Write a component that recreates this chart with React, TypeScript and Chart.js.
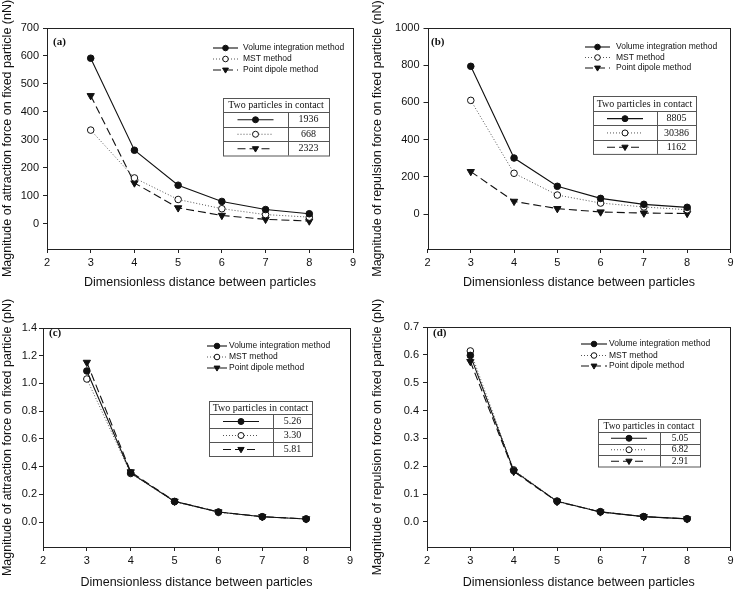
import React, { useEffect, useRef } from 'react';
import { Chart, registerables } from 'chart.js';

Chart.register(...registerables);

// ---------- DATA ----------
const distances = [3, 4, 5, 6, 7, 8];
const xTicks = [2, 3, 4, 5, 6, 7, 8, 9];
const seriesNames = ['Volume integration method', 'MST method', 'Point dipole method'];
const xTitle = 'Dimensionless distance between particles';
const tableHeader = 'Two particles in contact';

// (a) attraction, nN
const aVolume = [592, 263, 138, 80, 51, 36];
const aMST = [335, 164, 87, 54, 33, 24];
const aDipole = [458, 146, 57, 30, 16, 10];
const aTicks = [0, 100, 200, 300, 400, 500, 600, 700];
const aContact = ['1936', '668', '2323'];

// (b) repulsion, nN
const bVolume = [794, 301, 149, 84, 52, 36];
const bMST = [611, 219, 102, 59, 38, 23];
const bDipole = [228, 68, 29, 11, 5, 3];
const bTicks = [0, 200, 400, 600, 800, 1000];
const bContact = ['8805', '30386', '1162'];

// (c) attraction, pN
const cVolume = [1.09, 0.355, 0.149, 0.072, 0.038, 0.022];
const cMST = [1.032, 0.35, 0.147, 0.071, 0.038, 0.022];
const cDipole = [1.152, 0.362, 0.15, 0.073, 0.039, 0.023];
const cTicks = [0, 0.2, 0.4, 0.6, 0.8, 1.0, 1.2, 1.4];
const cContact = ['5.26', '3.30', '5.81'];

// (d) repulsion, pN
const dVolume = [0.598, 0.184, 0.074, 0.036, 0.019, 0.011];
const dMST = [0.614, 0.187, 0.075, 0.037, 0.019, 0.011];
const dDipole = [0.576, 0.181, 0.073, 0.036, 0.019, 0.011];
const dTicks = [0, 0.1, 0.2, 0.3, 0.4, 0.5, 0.6, 0.7];
const dContact = ['5.05', '6.82', '2.91'];

// ---------- LAYOUT ----------
const W = 737;
const H = 589;
const SANS = '"Liberation Sans", Arial, sans-serif';
const SERIF = '"Liberation Serif", "Times New Roman", serif';

type Panel = {
  label: string;
  padLeft: number;
  area: { left: number; top: number; right: number; bottom: number };
  xScaleBottom: number;
  xTitlePad: number;
  yMin: number;
  yMax: number;
  yTicks: number[];
  decimals: number;
  tickPad: number;
  yTitle: string;
  volume: number[];
  mst: number[];
  dipole: number[];
  contact: string[];
  legend: { x1: number; x2: number; tx: number; ys: number[] };
  table: { x: number; y: number; w: number; header: number; row: number; col: number; font: number };
  labelPos: { x: number; y: number };
};

const panels: Panel[] = [
  {
    label: '(a)', padLeft: 0,
    area: { left: 47, top: 28, right: 353, bottom: 249 },
    xScaleBottom: 291, xTitlePad: 1.75,
    yMin: -90, yMax: 700, yTicks: aTicks, decimals: 0, tickPad: 4,
    yTitle: 'Magnitude of attraction force on fixed particle (nN)',
    volume: aVolume, mst: aMST, dipole: aDipole, contact: aContact,
    legend: { x1: 213, x2: 238, tx: 243, ys: [48, 59, 70] },
    table: { x: 223, y: 98, w: 106, header: 14, row: 14.5, col: 288, font: 10 },
    labelPos: { x: 53, y: 42 },
  },
  {
    label: '(b)', padLeft: 370,
    area: { left: 427.5, top: 28, right: 734, bottom: 249 },
    xScaleBottom: 291, xTitlePad: 1.75,
    yMin: -188, yMax: 1000, yTicks: bTicks, decimals: 0, tickPad: 4,
    yTitle: 'Magnitude of repulsion force on fixed particle (nN)',
    volume: bVolume, mst: bMST, dipole: bDipole, contact: bContact,
    legend: { x1: 585, x2: 610, tx: 616, ys: [47, 57.5, 68] },
    table: { x: 593, y: 96, w: 103, header: 15, row: 14.3, col: 657, font: 10 },
    labelPos: { x: 431, y: 42 },
  },
  {
    label: '(c)', padLeft: 0,
    area: { left: 43, top: 328, right: 350, bottom: 547 },
    xScaleBottom: 589, xTitlePad: 0,
    yMin: -0.18, yMax: 1.4, yTicks: cTicks, decimals: 1, tickPad: 2,
    yTitle: 'Magnitude of attraction force on fixed particle (pN)',
    volume: cVolume, mst: cMST, dipole: cDipole, contact: cContact,
    legend: { x1: 207, x2: 227, tx: 229, ys: [346, 357, 368] },
    table: { x: 209, y: 401, w: 103, header: 13, row: 14, col: 273, font: 10 },
    labelPos: { x: 49, y: 333 },
  },
  {
    label: '(d)', padLeft: 370,
    area: { left: 427, top: 327, right: 734, bottom: 547 },
    xScaleBottom: 589, xTitlePad: 0,
    yMin: -0.09, yMax: 0.7, yTicks: dTicks, decimals: 1, tickPad: 4,
    yTitle: 'Magnitude of repulsion force on fixed particle (pN)',
    volume: dVolume, mst: dMST, dipole: dDipole, contact: dContact,
    legend: { x1: 581, x2: 607, tx: 609, ys: [344, 355.5, 366] },
    table: { x: 598, y: 419, w: 102, header: 13, row: 11.5, col: 660, font: 9.5 },
    labelPos: { x: 433, y: 333 },
  },
];

// ---------- STYLES ----------
const lineStyles = [
  { color: '#111', dash: [] as number[], width: 1.1 },
  { color: '#555', dash: [1, 2], width: 1 },
  { color: '#111', dash: [8, 4], width: 1.1 },
];

function drawMarker(ctx: CanvasRenderingContext2D, kind: number, cx: number, cy: number, r: number) {
  ctx.save();
  ctx.setLineDash([]);
  ctx.lineWidth = 1;
  ctx.strokeStyle = '#111';
  if (kind === 0 || kind === 1) {
    ctx.beginPath();
    ctx.arc(cx, cy, r, 0, Math.PI * 2);
    ctx.fillStyle = kind === 0 ? '#111' : '#fff';
    ctx.fill();
    ctx.stroke();
  } else {
    const s = r * 1.05;
    ctx.beginPath();
    ctx.moveTo(cx - s, cy - s * 0.65);
    ctx.lineTo(cx + s, cy - s * 0.65);
    ctx.lineTo(cx, cy + s * 1.05);
    ctx.closePath();
    ctx.fillStyle = '#111';
    ctx.fill();
    ctx.stroke();
  }
  ctx.restore();
}

function drawSample(ctx: CanvasRenderingContext2D, kind: number, x1: number, x2: number, y: number, r: number) {
  const st = lineStyles[kind];
  ctx.save();
  ctx.strokeStyle = st.color;
  ctx.lineWidth = st.width;
  ctx.setLineDash(st.dash);
  ctx.beginPath();
  ctx.moveTo(x1, y);
  ctx.lineTo(x2, y);
  ctx.stroke();
  ctx.restore();
  drawMarker(ctx, kind, (x1 + x2) / 2, y, r);
}

function makeDecor(p: Panel) {
  return {
    id: 'decor',
    afterDraw(chart: any) {
      const ctx: CanvasRenderingContext2D = chart.ctx;
      const a = chart.chartArea;
      ctx.save();
      // frame
      ctx.strokeStyle = '#222';
      ctx.lineWidth = 1;
      ctx.setLineDash([]);
      ctx.strokeRect(Math.round(a.left) + 0.5, Math.round(a.top) + 0.5,
        Math.round(a.right) - Math.round(a.left), Math.round(a.bottom) - Math.round(a.top));

      // panel label
      ctx.fillStyle = '#111';
      ctx.font = `bold 11px ${SERIF}`;
      ctx.textAlign = 'left';
      ctx.textBaseline = 'middle';
      ctx.fillText(p.label, p.labelPos.x, p.labelPos.y);

      // legend
      ctx.font = `8.5px ${SANS}`;
      p.legend.ys.forEach((y, k) => {
        drawSample(ctx, k, p.legend.x1, p.legend.x2, y, 2.8);
        ctx.fillStyle = '#111';
        ctx.textAlign = 'left';
        ctx.textBaseline = 'middle';
        ctx.fillText(seriesNames[k], p.legend.tx, y);
      });

      // inset table
      const t = p.table;
      const th = t.header + 3 * t.row;
      ctx.fillStyle = '#fff';
      ctx.fillRect(t.x, t.y, t.w, th);
      ctx.strokeStyle = '#555';
      ctx.lineWidth = 1;
      ctx.strokeRect(t.x + 0.5, t.y + 0.5, t.w, th);
      ctx.beginPath();
      for (let k = 0; k < 3; k++) {
        const yy = Math.round(t.y + t.header + k * t.row) + 0.5;
        ctx.moveTo(t.x, yy);
        ctx.lineTo(t.x + t.w, yy);
      }
      ctx.moveTo(Math.round(t.col) + 0.5, t.y + t.header);
      ctx.lineTo(Math.round(t.col) + 0.5, t.y + th);
      ctx.stroke();
      ctx.fillStyle = '#111';
      ctx.font = `${t.font}px ${SERIF}`;
      ctx.textAlign = 'center';
      ctx.textBaseline = 'middle';
      ctx.fillText(tableHeader, t.x + t.w / 2, t.y + t.header / 2 + 0.5);
      const c1 = (t.x + t.col) / 2;
      const c2 = (t.col + t.x + t.w) / 2;
      for (let k = 0; k < 3; k++) {
        const cy = t.y + t.header + k * t.row + t.row / 2 + 0.5;
        drawSample(ctx, k, c1 - 18, c1 + 18, cy, 3);
        ctx.fillStyle = '#111';
        ctx.textAlign = 'center';
        ctx.fillText(p.contact[k], c2, cy);
      }
      ctx.restore();
    },
  };
}

function buildChart(canvas: HTMLCanvasElement, p: Panel) {
  const mk = (vals: number[]) => distances.map((x, i) => ({ x, y: vals[i] }));
  const series = [p.volume, p.mst, p.dipole];
  const datasets = series.map((vals, k) => ({
    label: seriesNames[k],
    data: mk(vals),
    borderColor: lineStyles[k].color,
    borderWidth: lineStyles[k].width,
    borderDash: lineStyles[k].dash,
    tension: 0,
    fill: false,
    pointStyle: k === 2 ? 'triangle' : 'circle',
    pointRotation: k === 2 ? 180 : 0,
    pointRadius: k === 2 ? 4.2 : 3.3,
    pointBackgroundColor: k === 1 ? '#fff' : '#111',
    pointBorderColor: '#111',
    pointBorderWidth: 1,
  }));

  return new Chart(canvas, {
    type: 'line',
    data: { datasets } as any,
    plugins: [makeDecor(p)],
    options: {
      animation: false,
      responsive: false,
      devicePixelRatio: 1,
      events: [],
      layout: {
        padding: {
          left: p.padLeft,
          top: p.area.top,
          right: W - p.area.right,
          bottom: H - p.xScaleBottom,
        },
      },
      plugins: { legend: { display: false }, tooltip: { enabled: false } },
      scales: {
        x: {
          type: 'linear',
          min: 2,
          max: 9,
          afterBuildTicks: (s: any) => { s.ticks = xTicks.map((v) => ({ value: v })); },
          afterFit: (s: any) => { s.height = p.xScaleBottom - p.area.bottom; },
          grid: { display: true, drawOnChartArea: false, drawTicks: true, tickLength: 4, color: '#222', lineWidth: 1 },
          border: { display: false },
          ticks: {
            color: '#111', padding: 3.5, maxRotation: 0, autoSkip: false,
            font: { family: SANS, size: 11 },
            callback: (v: any) => String(v),
          },
          title: {
            display: true, text: xTitle, color: '#111',
            font: { family: SANS, size: 12.5, lineHeight: 1 },
            padding: { top: 0, bottom: p.xTitlePad },
          },
        },
        y: {
          type: 'linear',
          min: p.yMin,
          max: p.yMax,
          afterBuildTicks: (s: any) => { s.ticks = p.yTicks.map((v) => ({ value: v })); },
          afterFit: (s: any) => { s.width = p.area.left - p.padLeft; },
          grid: { display: true, drawOnChartArea: false, drawTicks: true, tickLength: 4, color: '#222', lineWidth: 1 },
          border: { display: false },
          ticks: {
            color: '#111', padding: p.tickPad, autoSkip: false,
            font: { family: SANS, size: 11 },
            callback: (v: any) => (p.decimals ? Number(v).toFixed(p.decimals) : String(v)),
          },
          title: {
            display: true, text: p.yTitle, color: '#111',
            font: { family: SANS, size: 12.5, lineHeight: 1 },
            padding: { top: 1.75, bottom: 0 },
          },
        },
      },
    } as any,
  });
}

export default function App() {
  const refs = useRef<(HTMLCanvasElement | null)[]>([]);
  useEffect(() => {
    const charts = panels.map((p, i) => buildChart(refs.current[i] as HTMLCanvasElement, p));
    return () => charts.forEach((c) => c.destroy());
  }, []);
  return (
    <div style={{ position: 'absolute', left: 0, top: 0, width: W, height: H, background: '#fff' }}>
      {panels.map((p, i) => (
        <canvas
          key={p.label}
          ref={(el) => { refs.current[i] = el; }}
          width={W}
          height={H}
          style={{ position: 'absolute', left: 0, top: 0, width: W, height: H }}
        />
      ))}
    </div>
  );
}
